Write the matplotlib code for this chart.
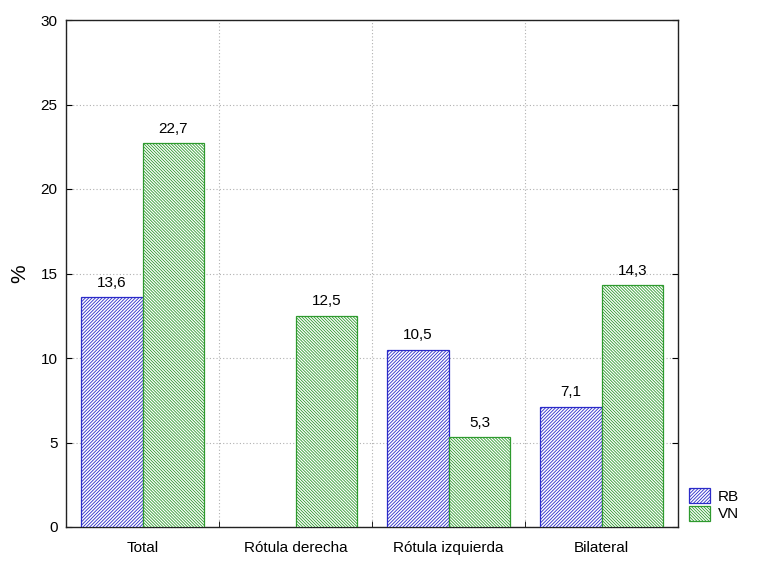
import matplotlib
matplotlib.use("Agg")
import matplotlib.pyplot as plt
import numpy as np

categories = ["Total", "Rótula derecha", "Rótula izquierda", "Bilateral"]
rb_values = [13.6, 0.0, 10.5, 7.1]
vn_values = [22.7, 12.5, 5.3, 14.3]
series_names = ["RB", "VN"]
y_ticks = [0, 5, 10, 15, 20, 25, 30]

plt.rcParams['font.family'] = ['Liberation Sans', 'DejaVu Sans']
plt.rcParams['hatch.linewidth'] = 0.6

fig = plt.figure(figsize=(7.84, 5.8), dpi=100)
ax = fig.add_axes([66/784, 1-527/580, (678-66)/784, (527-20)/580])

x = np.arange(len(categories))
w = 0.405
blue = "#2b2bc8"
green = "#2e9a2e"
b1 = ax.bar(x - w/2, rb_values, w, facecolor="white", edgecolor=blue, hatch="/" * 10, linewidth=0.9, label=series_names[0], zorder=3)
b2 = ax.bar(x + w/2, vn_values, w, facecolor="white", edgecolor=green, hatch="\\" * 11, linewidth=0.9, label=series_names[1], zorder=3)

def fmt(v):
    return f"{v:.1f}".replace(".", ",")

for bars, vals in ((b1, rb_values), (b2, vn_values)):
    for r, v in zip(bars, vals):
        if v > 0:
            ax.text(r.get_x() + r.get_width()/2, v + 0.45, fmt(v), ha="center", va="bottom", fontsize=11, zorder=4)
        else:
            r.set_visible(False)

ax.set_xlim(-0.5, len(categories) - 0.5)
ax.set_ylim(0, 30)
ax.set_yticks(y_ticks)
ax.set_yticklabels([str(t) for t in y_ticks], fontsize=11)
ax.set_xticks(x)
ax.set_xticklabels(categories, fontsize=11)
ax.tick_params(axis='x', length=0, pad=10)
ax.set_xticks(np.arange(len(categories) + 1) - 0.5, minor=True)
ax.tick_params(axis='x', which='minor', direction='in', length=4, top=False)
ax.tick_params(axis='y', direction='in', length=4, right=True, pad=6)
ax.grid(axis='y', which='major', linestyle=(0, (1, 2)), color="#b0b0b0", linewidth=0.8, zorder=0)
ax.grid(axis='x', which='minor', linestyle=(0, (1, 2)), color="#b0b0b0", linewidth=0.8, zorder=0)
ax.grid(axis='x', which='major', visible=False)
for s in ax.spines.values():
    s.set_linewidth(1.0)
    s.set_color("#222222")

ax.set_ylabel("%", fontsize=15, labelpad=8)

leg = ax.legend(loc="lower left", bbox_to_anchor=(1.0, -0.01), frameon=False, fontsize=11,
                handlelength=1.4, handleheight=1.1, handletextpad=0.5, labelspacing=0.15, borderaxespad=0.3)

fig.savefig("out.png", dpi=100)
